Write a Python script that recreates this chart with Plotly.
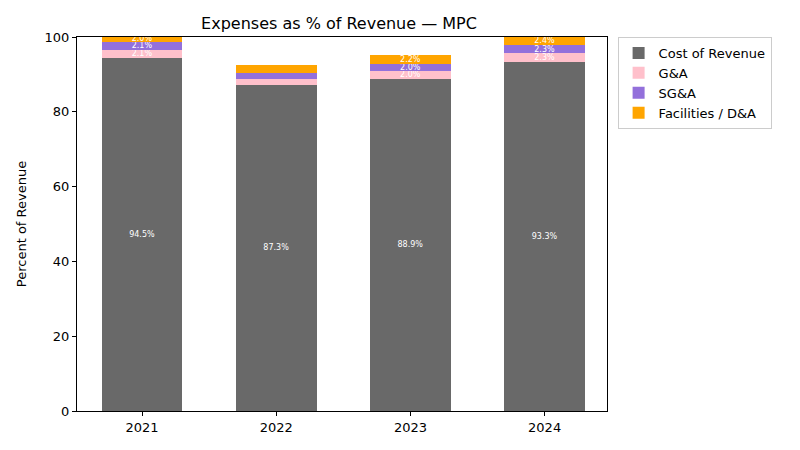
import plotly.graph_objects as go

years = ["2021", "2022", "2023", "2024"]
cost_of_revenue = [94.5, 87.3, 88.9, 93.3]
g_and_a = [2.1, 1.6, 2.0, 2.3]
sg_and_a = [2.1, 1.6, 2.0, 2.3]
facilities_da = [2.0, 1.9, 2.2, 2.4]

series = [
    ("Cost of Revenue", cost_of_revenue, "#696969"),
    ("G&A", g_and_a, "#ffc0cb"),
    ("SG&A", sg_and_a, "#9370db"),
    ("Facilities / D&A", facilities_da, "#ffa500"),
]

fig = go.Figure()
for name, vals, color in series:
    fig.add_trace(go.Bar(
        x=years, y=vals, name=name,
        marker=dict(color=color, line=dict(width=0)),
        width=0.6,
        text=[f"{v:.1f}%" if v >= 2.0 else "" for v in vals],
        textposition="inside",
        insidetextanchor="middle",
        textangle=0,
        constraintext="none",
        textfont=dict(color="white", size=8, family="DejaVu Sans"),
        hoverinfo="skip",
    ))

fig.update_layout(
    barmode="stack",
    width=800, height=450,
    margin=dict(l=62, r=201, t=29, b=47),
    paper_bgcolor="white", plot_bgcolor="white",
    font=dict(family="DejaVu Sans", size=13, color="black"),
    title=dict(text="Expenses as % of Revenue — MPC", x=331 / 800,
               xanchor="center", y=1 - 15 / 450, yanchor="middle", font=dict(size=16)),
    showlegend=True,
    legend=dict(x=1.02, y=1.0, xanchor="left", yanchor="top",
                bordercolor="#cccccc", borderwidth=1, font=dict(size=13),
                traceorder="normal", bgcolor="white"),
    uniformtext=dict(mode=False),
)
fig.update_xaxes(range=[-0.485, 3.465], showline=True, linecolor="black", mirror=True,
                 ticks="outside", ticklen=4, tickcolor="black", showgrid=False)
fig.update_yaxes(range=[0, 100], dtick=20, showline=True, linecolor="black", mirror=True,
                 ticks="outside", ticklen=4, tickcolor="black", showgrid=False,
                 zeroline=False, title=dict(text="Percent of Revenue", font=dict(size=13)))

fig.write_html("out.html")
